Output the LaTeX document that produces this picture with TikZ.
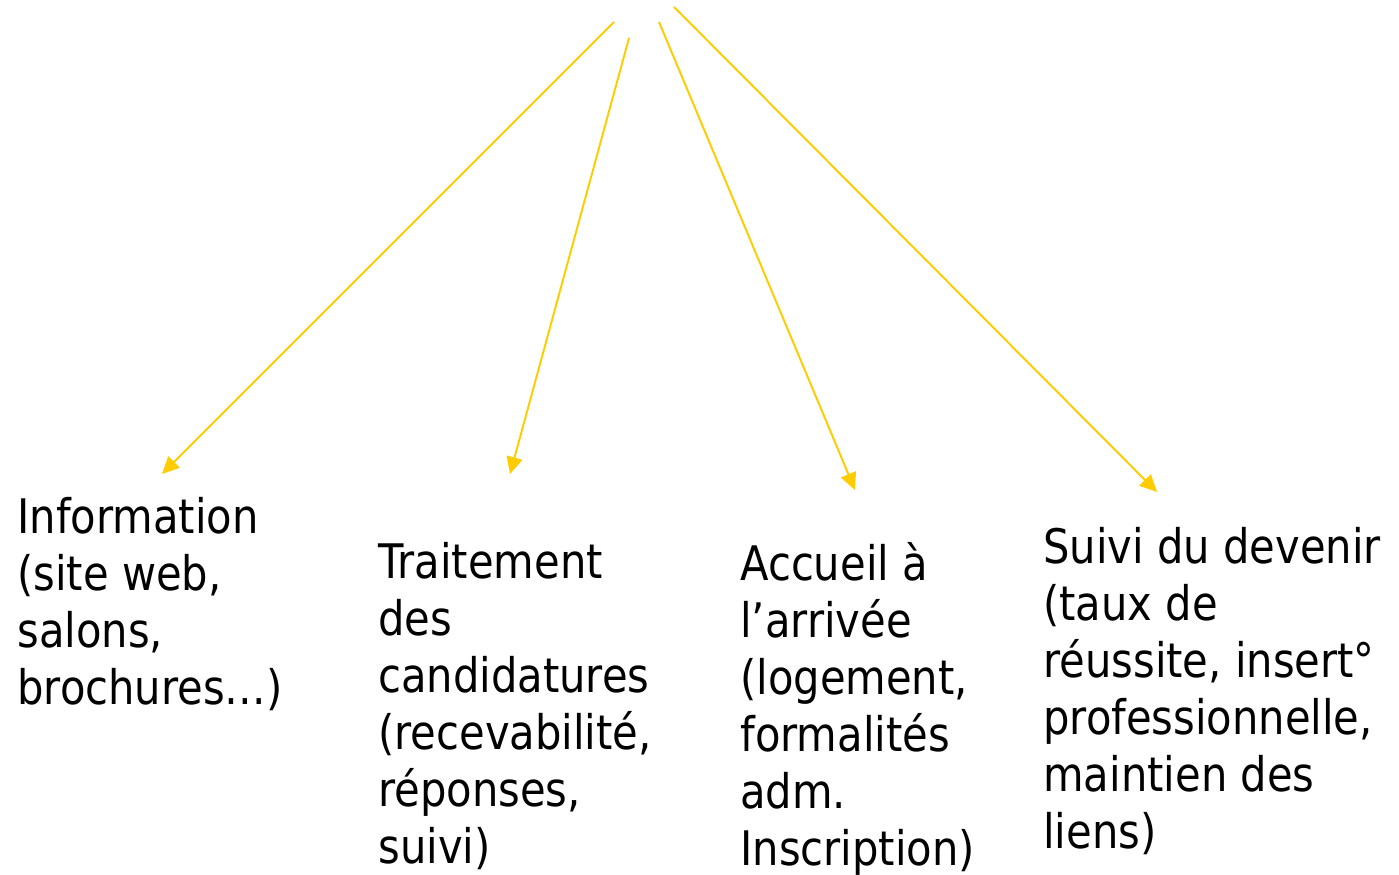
\documentclass[tikz,border=0pt]{standalone}
\usepackage{fontspec}
\setmainfont[FakeStretch=0.875]{DejaVu Sans}
\usetikzlibrary{arrows.meta}
\definecolor{gold}{RGB}{255,204,0}

\begin{document}
\begin{tikzpicture}[x=0.02cm,y=-0.02cm,
	txt/.style={anchor=north west, align=left, inner sep=0pt, font=\fontsize{27.1}{32.4}\selectfont},
	fleche/.style={color=gold, line width=1.1pt, -{Triangle[length=0.34cm,width=0.32cm]}}]
	\useasboundingbox (0,0) rectangle (1399,875);
	\node[txt] (info) at (17,497) {Information\\(site web,\\salons,\\brochures…)};
	\node[txt] (trait) at (378,542) {Traitement\\des\\candidatures\\(recevabilité,\\réponses,\\suivi)};
	\node[txt] (accueil) at (740,542) {Accueil à\\l’arrivée\\(logement,\\formalités\\adm.\\Inscription)};
	\node[txt] (suivi) at (1043,527) {Suivi du devenir\\(taux de\\réussite, insert°\\professionnelle,\\maintien des\\liens)};
	% points de depart
	\coordinate (d1) at (614,22);
	\coordinate (d2) at (629,38);
	\coordinate (d3) at (659,22);
	\coordinate (d4) at (674,7);
	% bouts des fleches
	\coordinate (a1) at (162,474);
	\coordinate (a2) at (510,474);
	\coordinate (a3) at (855,490);
	\coordinate (a4) at (1157,492);
	\path
	(d1) edge[fleche] (a1)
	(d2) edge[fleche] (a2)
	(d3) edge[fleche] (a3)
	(d4) edge[fleche] (a4)
	;
\end{tikzpicture}
\end{document}
